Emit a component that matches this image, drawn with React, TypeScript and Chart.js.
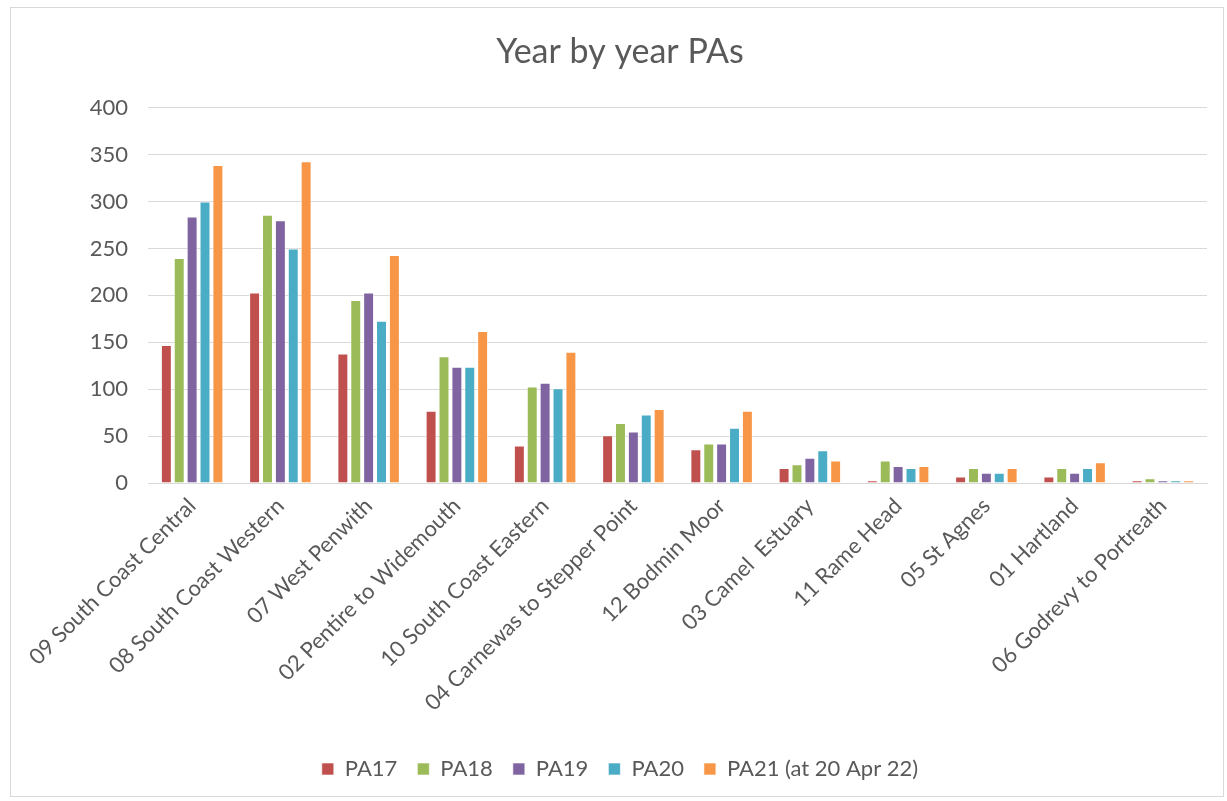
import React, { useEffect, useRef } from "react";
import { Chart, registerables } from "chart.js";

Chart.register(...registerables);

const categories = [
  "09 South Coast Central",
  "08 South Coast Western",
  "07 West Penwith",
  "02 Pentire to Widemouth",
  "10 South Coast Eastern",
  "04 Carnewas to Stepper Point",
  "12 Bodmin Moor",
  "03 Camel  Estuary",
  "11 Rame Head",
  "05 St Agnes",
  "01 Hartland",
  "06 Godrevy to Portreath",
];

const pa17 = [147, 203, 138, 77, 40, 51, 36, 16, 3, 7, 7, 3];
const pa18 = [240, 286, 195, 135, 103, 64, 42, 20, 24, 16, 16, 5];
const pa19 = [284, 280, 203, 124, 107, 55, 42, 27, 18, 11, 11, 3];
const pa20 = [300, 250, 173, 124, 101, 73, 59, 35, 16, 11, 16, 3];
const pa21 = [339, 343, 243, 162, 140, 79, 77, 24, 18, 16, 22, 3];

const seriesNames = ["PA17", "PA18", "PA19", "PA20", "PA21 (at 20 Apr 22)"];
const seriesColors = ["#C0504D", "#9BBB59", "#8064A2", "#4BACC6", "#F79646"];

const FONT = "Lato, 'Open Sans', sans-serif";
const TEXT = "#595959";

export default function App() {
  const ref = useRef<HTMLCanvasElement | null>(null);

  useEffect(() => {
    if (!ref.current) return;
    const values = [pa17, pa18, pa19, pa20, pa21];
    const chart = new Chart(ref.current, {
      type: "bar",
      data: {
        labels: categories,
        datasets: values.map((v, i) => ({
          label: seriesNames[i],
          data: v,
          backgroundColor: seriesColors[i],
          borderColor: "rgba(255,255,255,0.6)",
          borderWidth: 1,
          categoryPercentage: 0.73,
          barPercentage: 0.85,
        })),
      },
      options: {
        animation: false,
        responsive: false,
        maintainAspectRatio: false,
        layout: { padding: { left: 22, right: 16, top: 0, bottom: 6 } },
        plugins: {
          title: {
            display: true,
            text: "Year by year PAs",
            color: TEXT,
            font: { family: FONT, size: 34, weight: "normal" },
            padding: { top: 24, bottom: 35 },
          },
          legend: {
            position: "bottom",
            labels: {
              color: TEXT,
              font: { family: FONT, size: 22 },
              boxWidth: 12,
              boxHeight: 12,
              padding: 20,
            },
          },
          tooltip: { enabled: false },
        },
        scales: {
          x: {
            grid: { display: false },
            border: { display: true, color: "#D9D9D9" },
            ticks: {
              color: TEXT,
              font: { family: FONT, size: 22 },
              maxRotation: 45,
              minRotation: 45,
              autoSkip: false,
              padding: 2,
            },
            afterFit: (scale: any) => {
              scale.height = 255;
            },
          },
          y: {
            min: 0,
            max: 400,
            grid: { color: "#D9D9D9", drawTicks: false },
            border: { display: false },
            ticks: {
              stepSize: 50,
              color: TEXT,
              font: { family: FONT, size: 22 },
              padding: 20,
            },
            afterFit: (scale: any) => {
              scale.width = 115;
            },
          },
        },
      },
    });
    return () => chart.destroy();
  }, []);

  return (
    <div
      style={{
        position: "absolute",
        left: 10,
        top: 7,
        width: 1212,
        height: 788,
        border: "1px solid #D9D9D9",
        background: "#fff",
      }}
    >
      <canvas ref={ref} width={1212} height={788} style={{ display: "block" }} />
    </div>
  );
}
